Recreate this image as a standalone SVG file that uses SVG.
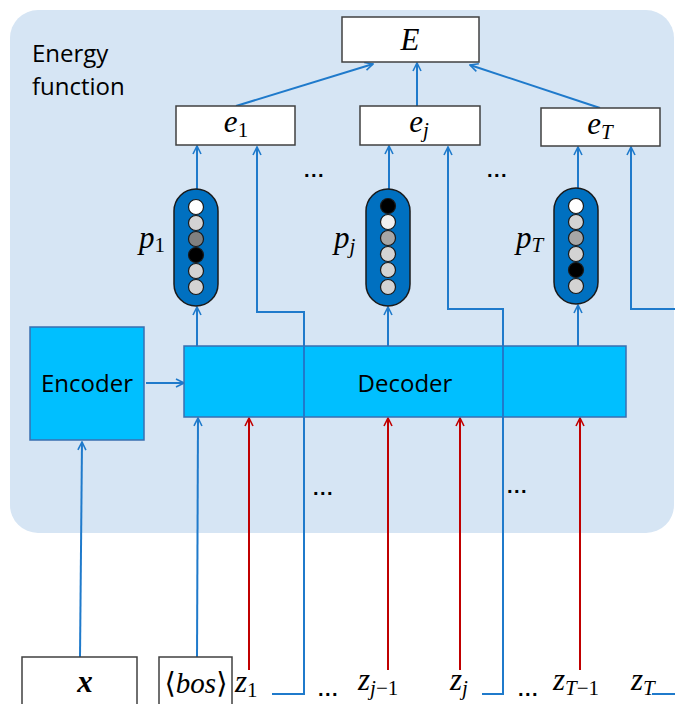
<svg xmlns="http://www.w3.org/2000/svg" width="675" height="704" viewBox="0 0 675 704">
<defs>
<style>
.lbl{font-family:"Open Sans","Liberation Sans",sans-serif;font-size:24px;fill:#000}
.m{font-family:"Liberation Serif","DejaVu Serif",serif;font-style:italic;font-size:31px;fill:#000}
.sub{font-style:normal;font-size:21px}
.subi{font-style:italic;font-size:21px}
.box{fill:#fff;stroke:#404040;stroke-width:1.5}
.blk{fill:#00BFFF;stroke:#3A6FB0;stroke-width:1.5}
.pill{fill:#0070C0;stroke:#1a1a1a;stroke-width:1.5}
.c{stroke:#1a1a1a;stroke-width:1.2}
.bl{fill:none;stroke:#1F7ACB;stroke-width:2}
.rd{fill:none;stroke:#C00000;stroke-width:2}
.dots{font-family:"Liberation Sans",sans-serif;font-size:20px;font-weight:bold;letter-spacing:1.5px;fill:#000}
</style>
<marker id="ab" viewBox="0 0 10 10" refX="9" refY="5" markerWidth="10" markerHeight="10" markerUnits="userSpaceOnUse" orient="auto"><path d="M1,1 L9,5 L1,9" fill="none" stroke="#1F7ACB" stroke-width="1.6"/></marker>
<marker id="ar" viewBox="0 0 10 10" refX="9" refY="5" markerWidth="10" markerHeight="10" markerUnits="userSpaceOnUse" orient="auto"><path d="M1,1 L9,5 L1,9" fill="none" stroke="#C00000" stroke-width="1.6"/></marker>
</defs>
<rect x="0" y="0" width="675" height="704" fill="#fff"/>
<rect id="panel" x="10" y="10" width="664" height="523" rx="28" fill="#D6E5F4"/>
<text class="lbl" x="32" y="62">Energy</text>
<text class="lbl" x="32" y="95">function</text>

<g id="connectors">
<line class="bl" x1="236" y1="106" x2="373" y2="64" marker-end="url(#ab)"/>
<line class="bl" x1="417" y1="106" x2="417" y2="63" marker-end="url(#ab)"/>
<line class="bl" x1="600" y1="108" x2="470" y2="65" marker-end="url(#ab)"/>
<line class="bl" x1="197" y1="189" x2="197" y2="146" marker-end="url(#ab)"/>
<line class="bl" x1="389" y1="189" x2="389" y2="146" marker-end="url(#ab)"/>
<line class="bl" x1="578" y1="188" x2="578" y2="147" marker-end="url(#ab)"/>
<line class="bl" x1="197" y1="346" x2="197" y2="307" marker-end="url(#ab)"/>
<line class="bl" x1="388" y1="346" x2="388" y2="307" marker-end="url(#ab)"/>
<line class="bl" x1="578" y1="346" x2="578" y2="305" marker-end="url(#ab)"/>
<line class="bl" x1="146" y1="383" x2="184" y2="383" marker-end="url(#ab)"/>
<line class="bl" x1="80" y1="657" x2="82" y2="442" marker-end="url(#ab)"/>
<line class="bl" x1="197" y1="657" x2="198" y2="418" marker-end="url(#ab)"/>
<path class="bl" d="M272,694 H304 V312 H257 V147" marker-end="url(#ab)"/>
<path class="bl" d="M482,694 H503 V309 H448 V147" marker-end="url(#ab)"/>
<path class="bl" d="M652,694 H676"/>
<path class="bl" d="M676,309 H631 V147" marker-end="url(#ab)"/>
<line class="rd" x1="249" y1="670" x2="249" y2="418" marker-end="url(#ar)"/>
<line class="rd" x1="388" y1="670" x2="388" y2="418" marker-end="url(#ar)"/>
<line class="rd" x1="460" y1="670" x2="460" y2="418" marker-end="url(#ar)"/>
<line class="rd" x1="580" y1="670" x2="580" y2="418" marker-end="url(#ar)"/>
</g>

<g id="E"><rect class="box" x="342" y="17" width="137" height="45"/><text class="m" x="410" y="50" text-anchor="middle">E</text></g>
<g id="e1"><rect class="box" x="176" y="106" width="119" height="39"/><text class="m" x="236" y="132" text-anchor="middle">e<tspan class="sub" dy="5">1</tspan></text></g>
<g id="ej"><rect class="box" x="360" y="106" width="120" height="39"/><text class="m" x="419" y="132" text-anchor="middle">e<tspan class="subi" dy="5">j</tspan></text></g>
<g id="eT"><rect class="box" x="541" y="108" width="119" height="38"/><text class="m" x="600" y="134" text-anchor="middle">e<tspan class="subi" dy="5">T</tspan></text></g>

<g id="p1">
<rect class="pill" x="174" y="189" width="44" height="117" rx="22"/>
<circle class="c" cx="196" cy="207" r="7.5" fill="#fff"/>
<circle class="c" cx="196" cy="223" r="7.5" fill="#D3D3D3"/>
<circle class="c" cx="196" cy="239" r="7.5" fill="#808080"/>
<circle class="c" cx="196" cy="255" r="7.5" fill="#000"/>
<circle class="c" cx="196" cy="271" r="7.5" fill="#D3D3D3"/>
<circle class="c" cx="196" cy="287" r="7.5" fill="#D3D3D3"/>
<text class="m" x="139" y="248">p<tspan class="sub" dy="4">1</tspan></text>
</g>
<g id="pj">
<rect class="pill" x="366" y="189" width="44" height="117" rx="22"/>
<circle class="c" cx="388" cy="206" r="7.5" fill="#000"/>
<circle class="c" cx="388" cy="222" r="7.5" fill="#F0F0F0"/>
<circle class="c" cx="388" cy="238" r="7.5" fill="#A6A6A6"/>
<circle class="c" cx="388" cy="254" r="7.5" fill="#D3D3D3"/>
<circle class="c" cx="388" cy="270" r="7.5" fill="#D3D3D3"/>
<circle class="c" cx="388" cy="287" r="7.5" fill="#D3D3D3"/>
<text class="m" x="334" y="248">p<tspan class="subi" dy="5">j</tspan></text>
</g>
<g id="pT">
<rect class="pill" x="554" y="188" width="44" height="116" rx="22"/>
<circle class="c" cx="576" cy="206" r="7.5" fill="#fff"/>
<circle class="c" cx="576" cy="222" r="7.5" fill="#D3D3D3"/>
<circle class="c" cx="576" cy="238" r="7.5" fill="#A6A6A6"/>
<circle class="c" cx="576" cy="254" r="7.5" fill="#D3D3D3"/>
<circle class="c" cx="576" cy="270" r="7.5" fill="#000"/>
<circle class="c" cx="576" cy="286" r="7.5" fill="#D3D3D3"/>
<text class="m" x="516" y="248">p<tspan class="subi" dy="4">T</tspan></text>
</g>

<g id="encoder"><rect class="blk" x="30" y="327" width="114" height="113"/><text class="lbl" x="87" y="392" text-anchor="middle">Encoder</text></g>
<g id="decoder"><rect class="blk" x="184" y="346" width="442" height="71"/><text class="lbl" x="405" y="392" text-anchor="middle">Decoder</text></g>
<line class="bl" x1="304" y1="346" x2="304" y2="417"/>
<line class="bl" x1="503" y1="346" x2="503" y2="417"/>

<text class="dots" x="304" y="177">...</text>
<text class="dots" x="487" y="177">...</text>
<text class="dots" x="313" y="495">...</text>
<text class="dots" x="507" y="493">...</text>

<g id="x"><rect class="box" x="22" y="657" width="115" height="60"/><text class="m" x="85" y="692" text-anchor="middle" font-weight="bold">x</text></g>
<g id="bos"><rect class="box" x="159" y="657" width="73" height="60"/><text class="m" x="196" y="693" text-anchor="middle" style="font-style:normal;font-size:29px">⟨<tspan style="font-style:italic">bos</tspan>⟩</text></g>
<g id="z"><text class="m" x="235" y="692">z<tspan class="sub" dy="5">1</tspan></text>
<text class="dots" x="318" y="696">...</text>
<text class="m" x="358" y="690">z<tspan class="subi" dy="5">j</tspan><tspan class="sub">−1</tspan></text>
<text class="m" x="450" y="690">z<tspan class="subi" dy="5">j</tspan></text>
<text class="dots" x="518" y="696">...</text>
<text class="m" x="553" y="690">z<tspan class="subi" dy="5">T</tspan><tspan class="sub">−1</tspan></text>
<text class="m" x="631" y="690">z<tspan class="subi" dy="5">T</tspan></text>
</g>
</svg>
